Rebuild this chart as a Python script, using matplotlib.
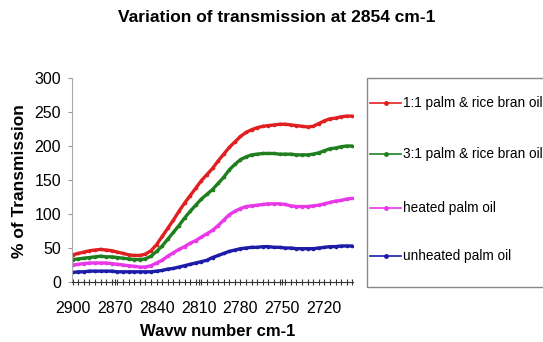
import matplotlib
matplotlib.use("Agg")
import matplotlib.pyplot as plt
from matplotlib.ticker import MultipleLocator, FixedLocator
from matplotlib.lines import Line2D
from matplotlib.patches import Rectangle

plt.rcParams['font.family'] = ['Liberation Sans', 'DejaVu Sans']

# wave numbers (cm-1), read every 4 units from 2900 down to 2700
wavenumber = [2900, 2896, 2892, 2888, 2884, 2880, 2876, 2872, 2868, 2864,
              2860, 2856, 2852, 2848, 2844, 2840, 2836, 2832, 2828, 2824,
              2820, 2816, 2812, 2808, 2804, 2800, 2796, 2792, 2788, 2784,
              2780, 2776, 2772, 2768, 2764, 2760, 2756, 2752, 2748, 2744,
              2740, 2736, 2732, 2728, 2724, 2720, 2716, 2712, 2708, 2704,
              2700]

palm_rice_1_1 = [40, 42, 44, 46, 47, 48, 47, 46, 44, 42,
                 40, 39, 39, 41, 46, 55, 67, 79, 91, 104,
                 116, 127, 138, 149, 158, 167, 178, 188, 198, 206,
                 214, 220, 224, 227, 229, 230, 231, 232, 232, 231,
                 230, 229, 228, 229, 233, 237, 240, 241, 243, 244,
                 244]

palm_rice_3_1 = [33, 34, 35, 36, 37, 38, 37, 37, 36, 35,
                 34, 33, 33, 34, 38, 45, 53, 63, 73, 83,
                 94, 104, 113, 122, 129, 136, 145, 154, 165, 173,
                 180, 184, 187, 188, 189, 189, 189, 188, 188, 188,
                 187, 187, 187, 188, 190, 193, 196, 197, 199, 200,
                 200]

heated_palm = [25, 26, 27, 28, 28, 28, 28, 27, 26, 25,
               24, 23, 22, 22, 24, 28, 32, 38, 43, 48,
               52, 57, 61, 66, 71, 76, 83, 91, 99, 104,
               108, 111, 112, 113, 114, 115, 115, 115, 114, 112,
               111, 111, 111, 112, 113, 115, 117, 119, 120, 122,
               123]

unheated_palm = [14, 15, 15, 16, 16, 16, 16, 16, 15, 15,
                 15, 15, 15, 15, 15, 16, 17, 19, 20, 22,
                 24, 26, 28, 30, 32, 36, 39, 42, 45, 47,
                 49, 50, 51, 51, 52, 52, 51, 51, 50, 50,
                 49, 49, 49, 49, 50, 51, 52, 52, 53, 53,
                 53]

labels = ["1:1 palm & rice bran oil", "3:1 palm & rice bran oil",
          "heated palm oil", "unheated palm oil"]
colors = ["#e02020", "#1f7f1f", "#e838e8", "#1c1ca8"]
series = [palm_rice_1_1, palm_rice_3_1, heated_palm, unheated_palm]
xtick_labels = [2900, 2870, 2840, 2810, 2780, 2750, 2720]

W, H = 543, 342
fig = plt.figure(figsize=(W / 100, H / 100), dpi=100)
ax = fig.add_axes([72 / W, 1 - 282 / H, (353 - 72) / W, (282 - 78) / H])

for vals, col in zip(series, colors):
    ax.plot(wavenumber, vals, color=col, lw=2.4, marker='o', ms=1.6,
            solid_capstyle='round')

ax.set_xlim(2900.5, 2699.5)
ax.set_ylim(0, 300)
ax.set_yticks([0, 50, 100, 150, 200, 250, 300])
ax.xaxis.set_major_locator(FixedLocator(xtick_labels))
ax.set_xticklabels([str(v) for v in xtick_labels])
ax.xaxis.set_minor_locator(MultipleLocator(4))
ax.tick_params(axis='x', which='both', direction='inout', length=5,
               width=0.8, color='#333333', labelsize=11.5, pad=11)
ax.tick_params(axis='y', which='major', direction='out', length=3,
               width=0.8, color='#999999', labelsize=11.5, pad=5)
for s in ['top', 'right']:
    ax.spines[s].set_visible(False)
ax.spines['left'].set_color('#aaaaaa')
ax.spines['bottom'].set_color('#333333')

fig.text(277 / W, 1 - 17 / H, "Variation of transmission at 2854 cm-1",
         ha='center', va='center', fontsize=12.5, fontweight='bold')
fig.text(20 / W, 1 - 181 / H, "% of Transmission", rotation=90,
         ha='center', va='center', fontsize=12.5, fontweight='bold')
fig.text(218 / W, 1 - 332 / H, "Wavw number cm-1",
         ha='center', va='center', fontsize=12, fontweight='bold')

# legend box, running past the right edge like the original
fig.patches.append(Rectangle((367 / W, 1 - 287 / H), (W - 360) / W,
                             (287 - 78) / H, transform=fig.transFigure,
                             fill=False, edgecolor='#888888', lw=1))
row_y = [103, 154, 208, 256]
for lab, col, yy in zip(labels, colors, row_y):
    yf = 1 - yy / H
    fig.lines.append(Line2D([370 / W, 385.5 / W, 401 / W], [yf, yf, yf],
                            transform=fig.transFigure, color=col, lw=1.2,
                            marker='o', ms=2.5, markevery=[1]))
    fig.text(403 / W, yf, lab, ha='left', va='center', fontsize=9.8)

fig.savefig("out.png", dpi=100)
